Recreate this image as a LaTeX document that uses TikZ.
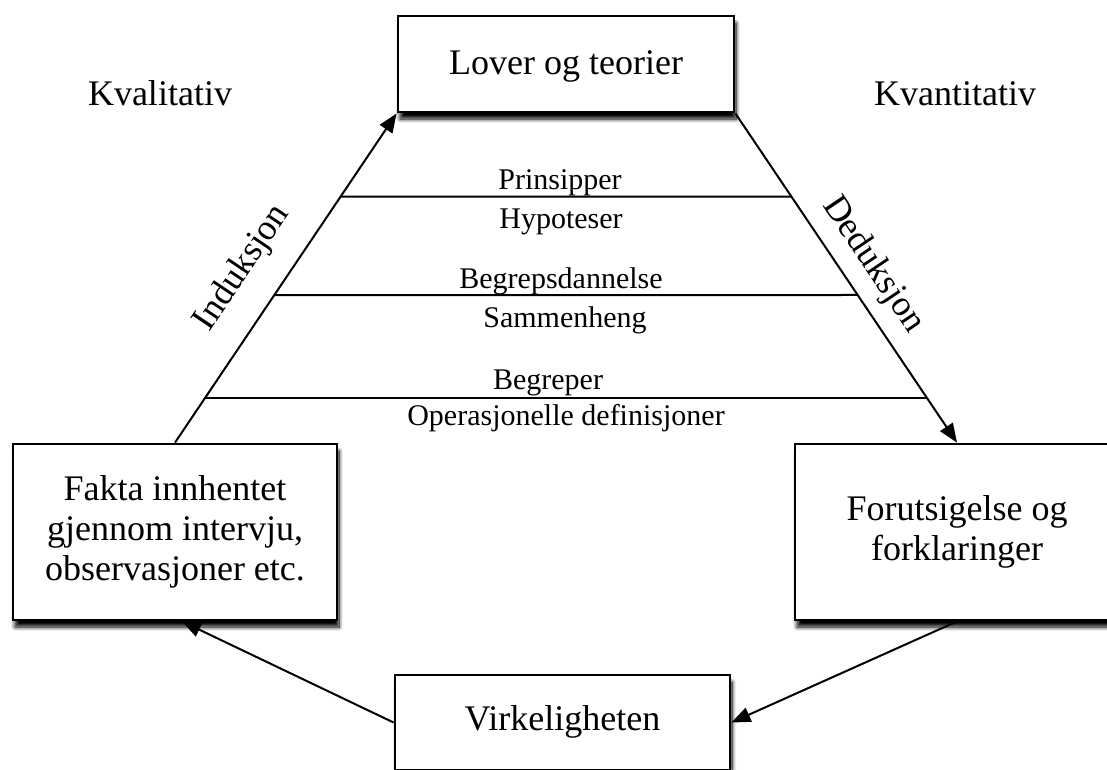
\documentclass[tikz,border=0pt]{standalone}
\usepackage{fontspec}
\setmainfont{Liberation Serif}
\usetikzlibrary{arrows.meta,calc,shadows.blur}

\begin{document}
\begin{tikzpicture}[x=1pt,y=-1pt,
  box/.style={draw=black, line width=2.8pt, fill=white, rectangle,
    inner sep=0pt, align=center, font=\fontsize{36}{40}\selectfont,
    blur shadow={shadow xshift=2pt, shadow yshift=-7pt,
      shadow blur radius=4pt, shadow blur steps=10, shadow opacity=100}},
  conn/.style={draw=black, line width=2pt,
    -{Triangle[length=19pt,width=15pt]}},
  level/.style={draw=black, line width=2pt},
  big/.style={font=\fontsize{36}{40}\selectfont, inner sep=0pt},
  small/.style={font=\fontsize{30}{34}\selectfont, inner sep=0pt, anchor=base},
  side/.style={big, sloped}]

\useasboundingbox (0,0) rectangle (1107,769);

% the four boxes
\node[box, minimum width=336pt, minimum height=96pt,
      text height=21pt, text depth=0pt] (lover) at (566,64) {Lover og teorier};
\node[box, minimum width=324pt, minimum height=176pt] (fakta) at (175,532)
  {Fakta innhentet\\gjennom intervju,\\observasjoner etc.};
\node[box, minimum width=324pt, minimum height=176pt] (forut) at (957,532)
  {Forutsigelse og\\forklaringer};
\node[box, minimum width=335pt, minimum height=95pt,
      text height=25pt, text depth=10pt] (virk) at (562.5,722.5) {Virkeligheten};

% the cycle
\draw[conn] (fakta.north) -- node[side, pos=0.46, above=24pt] (ind) {Induksjon} (lover.south west);
\draw[conn] (lover.south east) -- node[side, pos=0.51, above=12pt] (ded) {Deduksjon} (forut.north);
\draw[conn] (forut.south) -- (virk.east);
\draw[conn] (virk.west) -- ($(fakta.south)+(7,0)$);

% levels between the two slopes
\coordinate (l1) at ($(fakta.north)!0.747!(lover.south west)$);
\coordinate (r1) at ($(lover.south east)!0.2526!(forut.north)$);
\coordinate (l2) at ($(fakta.north)!0.448!(lover.south west)$);
\coordinate (r2) at ($(lover.south east)!0.5516!(forut.north)$);
\coordinate (l3) at ($(fakta.north)!0.134!(lover.south west)$);
\coordinate (r3) at ($(lover.south east)!0.866!(forut.north)$);
\draw[level] (l1) -- (r1);
\draw[level] (l2) -- (r2);
\draw[level] (l3) -- (r3);

\node[small] (prinsipper) at (560,189) {Prinsipper};
\node[small] (hypoteser) at (561,228) {Hypoteser};
\node[small] (begrepsdannelse) at (561,288) {Begrepsdannelse};
\node[small] (sammenheng) at (565,327) {Sammenheng};
\node[small] (begreper) at (548,389) {Begreper};
\node[small] (operasjonelle) at (566,425) {Operasjonelle definisjoner};

% side headings
\node[big, anchor=base] (kval) at (160,105) {Kvalitativ};
\node[big, anchor=base] (kvant) at (955,105) {Kvantitativ};
\end{tikzpicture}
\end{document}
